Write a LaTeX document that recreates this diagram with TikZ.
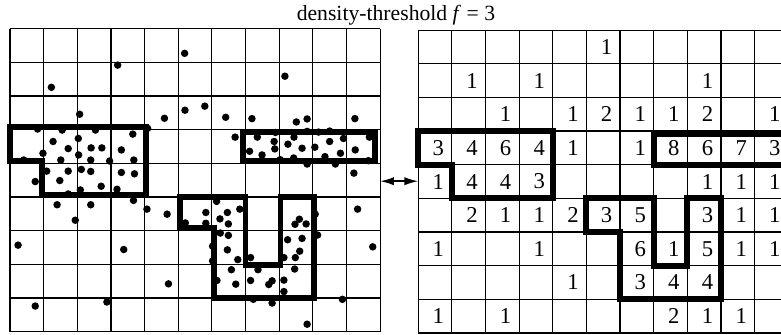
\documentclass[tikz,border=0pt]{standalone}
\usepackage{fontspec}
\setmainfont{Liberation Serif}
\usetikzlibrary{arrows.meta}
\tikzset{
  gridline/.style={line width=0.6pt, step=1},
  region/.style={line width=3pt, line join=miter},
  count/.style={inner sep=0pt, font=\fontsize{11.5}{13}\selectfont},
  link/.style={{Latex[length=7pt,width=4.2pt]}-{Latex[length=7pt,width=4.2pt]}, line width=0.8pt},
}

\begin{document}
\begin{tikzpicture}[x=0.6cm,y=0.6cm]
  \useasboundingbox (-0.297,-0.1) rectangle (22.913,9.855);
  \clip (-0.297,-0.1) rectangle (22.913,9.855);

  % Title
  \node[anchor=base, font=\fontsize{11}{13}\selectfont] (title) at (11.47,9.24) {density-threshold \textit{f} = 3};

  % Left grid: data points and dense regions
  \draw[gridline] (0,0) grid (11,9);
  \draw[region] (0,6.08) -- (4.03,6.08) -- (4.03,4.07) -- (0.96,4.07) -- (0.96,5.08) -- (0,5.08) -- cycle;
  \draw[region] (6.93,5.94) rectangle (10.85,5.06);
  \draw[region] (5.04,4) -- (7,4) -- (7,1.98) -- (8.04,1.98) -- (8.04,4) -- (9.04,4) -- (9.04,1) -- (6.05,1) -- (6.05,3.07) -- (5.04,3.07) -- cycle;
  \foreach \x/\y in {5.19/8.27, 3.20/7.92, 1.23/7.26, 8.17/7.59, 2.07/6.46, 4.59/6.34, 5.20/6.58, 5.79/6.70,
      6.41/6.37, 7.19/6.33, 8.51/6.23, 8.83/6.32, 10.25/6.33, 0.82/6.02, 1.55/5.99, 2.54/5.99,
      3.65/5.87, 4.09/6.04, 1.28/5.65, 2.03/5.74, 1.73/5.44, 2.41/5.46, 2.73/5.46, 3.31/5.40,
      0.98/5.30, 2.04/5.25, 0.41/5.10, 1.51/5.10, 2.40/5.10, 2.96/5.07, 3.68/5.10, 1.09/4.77,
      1.73/4.77, 2.12/4.82, 2.40/4.76, 3.31/4.73, 3.70/4.69, 0.75/4.46, 1.48/4.49, 2.71/4.32,
      2.09/4.21, 3.18/4.23, 1.73/4.09, 3.67/3.90, 1.40/3.77, 2.40/3.77, 1.94/3.31, 0.24/2.57,
      3.38/2.44, 0.75/0.76, 2.88/0.88, 4.07/3.64, 4.67/3.49, 4.71/1.42, 6.14/3.87, 5.82/3.54,
      6.46/3.54, 6.83/3.64, 6.24/3.35, 6.49/3.20, 5.21/3.23, 5.82/3.22, 6.25/2.93, 6.49/2.86,
      6.02/2.54, 6.46/2.43, 6.77/2.14, 7.15/2.20, 6.02/2.10, 7.37/1.84, 6.58/1.84, 6.15/1.52,
      6.71/1.41, 7.15/1.52, 7.69/1.40, 7.79/1.51, 8.14/1.53, 8.14/1.19, 7.23/0.96, 7.79/0.85,
      9.88/0.96, 8.83/0.22, 8.46/1.86, 8.14/2.20, 8.48/2.20, 8.61/2.39, 8.25/2.73, 8.68/2.77,
      9.14/2.87, 8.47/3.19, 8.60/3.34, 8.80/3.20, 9.07/3.49, 10.33/3.64, 10.78/2.52,
      6.69/5.78, 7.35/5.78, 7.89/5.92, 7.85/5.65, 8.44/5.78, 8.26/5.57, 8.83/5.95, 9.17/5.93,
      9.50/5.96, 9.50/5.65, 9.91/5.74, 10.68/5.78, 7.87/5.43, 8.68/5.45, 9.06/5.48, 10.26/5.40,
      9.82/5.30, 7.12/5.36, 7.49/5.25, 8.43/5.16, 9.36/5.20, 8.03/5.11, 8.83/4.98, 9.67/4.98,
      10.65/5.08, 10.22/4.71}
    \fill (\x,\y) circle (1.9pt);

  % Right grid: counts per cell
  \begin{scope}[shift={(12.13,-0.04)}]
    \draw[gridline] (0,0) grid (11,9);
    \foreach \c/\r/\n in {6/1/1,
        2/2/1, 4/2/1, 9/2/1,
        3/3/1, 5/3/1, 6/3/2, 7/3/1, 8/3/1, 9/3/2, 11/3/1,
        1/4/3, 2/4/4, 3/4/6, 4/4/4, 5/4/1, 7/4/1, 8/4/8, 9/4/6, 10/4/7, 11/4/3,
        1/5/1, 2/5/4, 3/5/4, 4/5/3, 9/5/1, 10/5/1, 11/5/1,
        2/6/2, 3/6/1, 4/6/1, 5/6/2, 6/6/3, 7/6/5, 9/6/3, 10/6/1, 11/6/1,
        1/7/1, 4/7/1, 7/7/6, 8/7/1, 9/7/5, 10/7/1, 11/7/1,
        5/8/1, 7/8/3, 8/8/4, 9/8/4,
        1/9/1, 3/9/1, 8/9/2, 9/9/1, 10/9/1}
      \node[count] (n-\c-\r) at (\c-0.4,9.5-\r) {\n};
    \draw[region] (0,6) -- (4,6) -- (4,4) -- (1,4) -- (1,5) -- (0,5) -- cycle;
    \draw[region] (7,5.9) rectangle (11.3,5);
    \draw[region] (5,4) -- (7,4) -- (7,2) -- (8,2) -- (8,4) -- (9,4) -- (9,1) -- (6,1) -- (6,3) -- (5,3) -- cycle;
  \end{scope}

  % Link between the grids
  \coordinate (lgrid) at (11,4.47);
  \coordinate (rgrid) at (12.13,4.47);
  \draw[link] (lgrid) -- (rgrid);
\end{tikzpicture}
\end{document}
